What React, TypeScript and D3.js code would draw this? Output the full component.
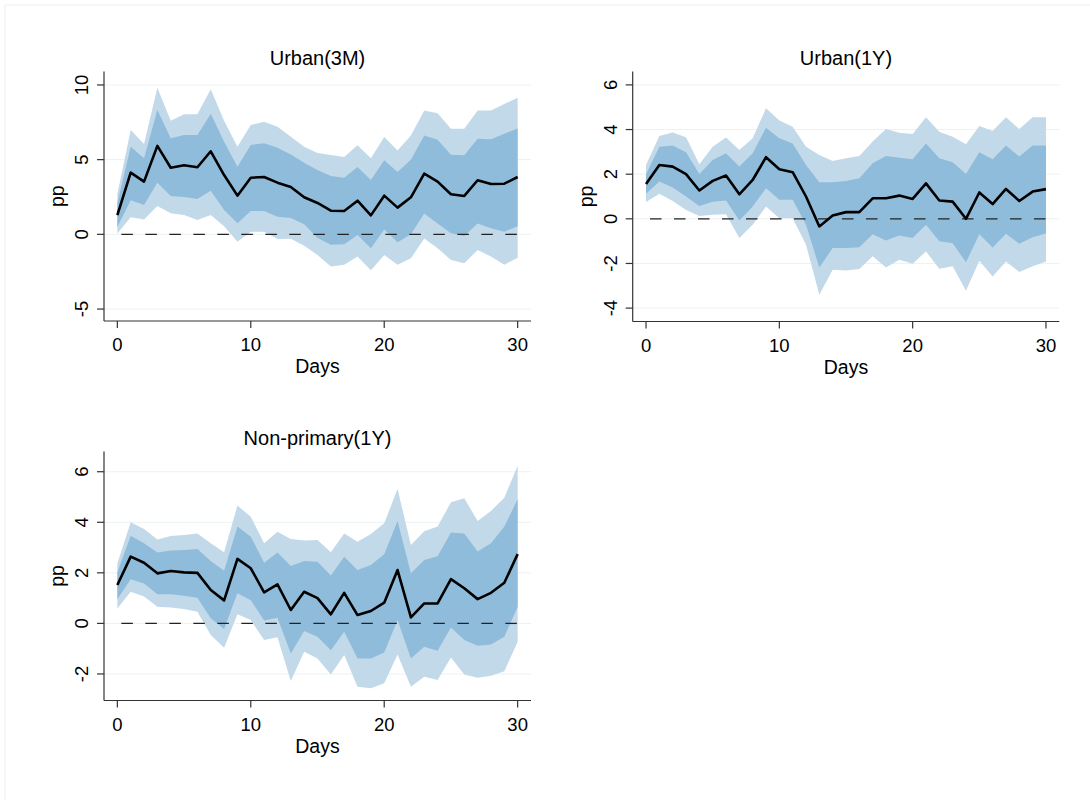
import React from "react";
import * as d3 from "d3";

const days = d3.range(0, 31);

// Urban(3M)
const u3mMean = [1.29, 4.13, 3.53, 5.92, 4.46, 4.62, 4.49, 5.56, 3.97, 2.59, 3.79, 3.84, 3.46, 3.17, 2.48, 2.1, 1.58, 1.56, 2.25, 1.27, 2.59, 1.79, 2.48, 4.06, 3.53, 2.68, 2.57, 3.62, 3.37, 3.39, 3.84];
const u3mHi90 = [2.7, 6.99, 6.05, 9.82, 7.61, 8.04, 8.04, 9.71, 7.6, 5.87, 7.32, 7.54, 7.21, 6.54, 5.87, 5.44, 5.31, 5.18, 5.96, 5.1, 6.51, 5.62, 6.62, 8.29, 8.11, 7.07, 7.07, 8.29, 8.29, 8.73, 9.14];
const u3mHi68 = [2.1, 5.87, 5.09, 8.33, 6.43, 6.65, 6.65, 8.08, 6.2, 4.53, 5.98, 6.09, 5.8, 5.35, 4.8, 4.3, 3.9, 3.78, 4.51, 3.63, 4.96, 4.18, 5.0, 6.62, 6.33, 5.33, 5.29, 6.4, 6.36, 6.73, 7.08];
const u3mLo68 = [0.5, 2.28, 1.96, 3.46, 2.57, 2.5, 2.37, 2.92, 1.63, 0.74, 1.56, 1.56, 1.18, 1.1, 0.67, -0.25, -0.69, -0.67, -0.04, -0.93, 0.33, -0.53, 0.0, 1.4, 0.73, 0.07, -0.11, 0.73, 0.4, 0.18, 0.55];
const u3mLo90 = [0.05, 1.14, 1.0, 1.9, 1.41, 1.29, 0.96, 1.29, 0.55, -0.49, 0.18, 0.18, -0.31, -0.29, -0.77, -1.38, -2.16, -2.04, -1.49, -2.4, -1.38, -2.04, -1.6, -0.27, -0.93, -1.71, -1.93, -1.04, -1.49, -2.04, -1.56];

// Urban(1Y)
const u1yMean = [1.56, 2.41, 2.34, 2.0, 1.27, 1.7, 1.94, 1.1, 1.74, 2.76, 2.22, 2.09, 1.0, -0.34, 0.15, 0.3, 0.3, 0.92, 0.92, 1.04, 0.89, 1.59, 0.82, 0.77, 0.0, 1.18, 0.66, 1.34, 0.8, 1.22, 1.33];
const u1yHi90 = [2.41, 3.71, 3.87, 3.65, 2.44, 3.23, 3.64, 3.08, 3.61, 4.95, 4.4, 4.13, 3.23, 2.86, 2.59, 2.71, 2.82, 3.46, 4.02, 3.86, 3.8, 4.55, 3.9, 3.68, 3.34, 4.16, 3.93, 4.55, 4.02, 4.55, 4.55];
const u1yHi68 = [2.0, 3.23, 3.28, 2.98, 2.01, 2.64, 2.94, 2.34, 2.94, 4.08, 3.61, 3.38, 2.41, 1.64, 1.64, 1.7, 1.82, 2.49, 2.82, 2.74, 2.67, 3.38, 2.71, 2.53, 2.01, 2.98, 2.67, 3.28, 2.79, 3.28, 3.28];
const u1yLo68 = [1.12, 1.67, 1.4, 1.0, 0.58, 0.77, 0.82, -0.07, 0.55, 1.37, 0.85, 0.85, -0.27, -2.18, -1.31, -1.31, -1.27, -0.69, -0.97, -0.75, -0.86, -0.27, -1.01, -1.09, -1.95, -0.69, -1.28, -0.67, -1.12, -0.83, -0.66];
const u1yLo90 = [0.75, 1.12, 0.8, 0.4, 0.13, 0.18, 0.21, -0.86, -0.27, 0.55, 0.03, 0.03, -1.16, -3.4, -2.28, -2.32, -2.25, -1.68, -2.18, -1.83, -2.01, -1.46, -2.24, -2.13, -3.22, -1.88, -2.58, -1.91, -2.38, -2.13, -1.91];

// Non-primary(1Y)
const npMean = [1.52, 2.64, 2.4, 1.98, 2.07, 2.02, 2.0, 1.32, 0.91, 2.55, 2.18, 1.23, 1.54, 0.53, 1.25, 1.0, 0.36, 1.21, 0.33, 0.49, 0.82, 2.11, 0.24, 0.79, 0.79, 1.75, 1.39, 0.96, 1.21, 1.61, 2.74];
const npHi90 = [2.37, 4.0, 3.73, 3.32, 3.46, 3.5, 3.56, 3.17, 2.81, 4.66, 4.22, 3.17, 3.63, 3.34, 3.28, 3.3, 2.81, 3.56, 3.23, 3.54, 3.96, 5.32, 3.1, 3.65, 3.83, 4.79, 4.95, 4.05, 4.45, 4.97, 6.24];
const npHi68 = [2.02, 3.47, 3.17, 2.8, 2.88, 2.9, 2.94, 2.47, 2.08, 3.83, 3.43, 2.4, 2.8, 2.27, 2.47, 2.44, 1.89, 2.64, 2.11, 2.31, 2.74, 4.05, 1.98, 2.51, 2.66, 3.6, 3.56, 2.84, 3.17, 3.83, 4.91];
const npLo68 = [0.96, 1.75, 1.58, 1.15, 1.15, 1.09, 1.01, 0.2, -0.22, 1.19, 0.92, 0.11, 0.22, -1.19, -0.3, -0.53, -1.06, -0.33, -1.39, -1.39, -1.15, 0.13, -1.39, -0.92, -1.08, -0.16, -0.66, -0.88, -0.83, -0.53, 0.66];
const npLo90 = [0.59, 1.25, 1.06, 0.66, 0.63, 0.57, 0.46, -0.46, -0.96, 0.36, 0.13, -0.66, -0.55, -2.28, -1.12, -1.39, -2.02, -1.25, -2.51, -2.57, -2.37, -1.23, -2.51, -2.11, -2.24, -1.35, -2.02, -2.15, -2.07, -1.89, -0.73];

const xTicks = [0, 10, 20, 30];
const u3mTicks = [-5, 0, 5, 10];
const u1yTicks = [-4, -2, 0, 2, 4, 6];
const npTicks = [-2, 0, 2, 4, 6];

const FONT = "'Liberation Sans', Arial, Helvetica, sans-serif";
const LIGHT = "#c2d9e9";
const DARK = "#90bcdb";
const GRID = "#eaf2f3";
const AXIS = "#333";

type PanelProps = {
  title: string;
  left: number;
  right: number;
  top: number;
  bottom: number;
  yDomain: [number, number];
  yTicks: number[];
  mean: number[];
  hi90: number[];
  hi68: number[];
  lo68: number[];
  lo90: number[];
};

function Panel(p: PanelProps) {
  const x = d3.scaleLinear().domain([-1, 31]).range([p.left, p.right]);
  const y = d3.scaleLinear().domain(p.yDomain).range([p.bottom, p.top]);
  const area = (lo: number[], hi: number[]) =>
    d3
      .area<number>()
      .x((d) => x(d))
      .y0((d) => y(lo[d]))
      .y1((d) => y(hi[d]))(days) || "";
  const line = d3
    .line<number>()
    .x((d) => x(d))
    .y((d) => y(p.mean[d]))(days) || "";
  const cx = (p.left + p.right) / 2;
  const cy = (p.top + p.bottom) / 2;
  return (
    <g fontFamily={FONT} fill="#000">
      {p.yTicks.map((t) => (
        <line key={"g" + t} x1={p.left} x2={p.right} y1={y(t)} y2={y(t)} stroke={GRID} strokeWidth={1} />
      ))}
      <path d={area(p.lo90, p.hi90)} fill={LIGHT} />
      <path d={area(p.lo68, p.hi68)} fill={DARK} />
      <line x1={x(0)} x2={x(30)} y1={y(0)} y2={y(0)} stroke="#222" strokeWidth={1.3} strokeDasharray="11.5 12.5" strokeDashoffset={-4} />
      <path d={line} fill="none" stroke="#000" strokeWidth={2.6} strokeLinejoin="round" />
      <line x1={p.left} x2={p.left} y1={p.top} y2={p.bottom} stroke={AXIS} strokeWidth={1.2} />
      <line x1={p.left} x2={p.right} y1={p.bottom} y2={p.bottom} stroke={AXIS} strokeWidth={1.2} />
      {p.yTicks.map((t) => (
        <g key={"y" + t}>
          <line x1={p.left - 7} x2={p.left} y1={y(t)} y2={y(t)} stroke={AXIS} strokeWidth={1.2} />
          <text transform={`translate(${p.left - 16},${y(t)}) rotate(-90)`} textAnchor="middle" fontSize={18.5}>
            {t}
          </text>
        </g>
      ))}
      {xTicks.map((t) => (
        <g key={"x" + t}>
          <line x1={x(t)} x2={x(t)} y1={p.bottom} y2={p.bottom + 7} stroke={AXIS} strokeWidth={1.2} />
          <text x={x(t)} y={p.bottom + 30} textAnchor="middle" fontSize={18.5}>
            {t}
          </text>
        </g>
      ))}
      <text x={cx} y={p.bottom + 52} textAnchor="middle" fontSize={19.5}>
        Days
      </text>
      <text transform={`translate(${p.left - 40},${cy}) rotate(-90)`} textAnchor="middle" fontSize={19.5}>
        pp
      </text>
      <text x={cx} y={p.top - 7} textAnchor="middle" fontSize={20}>
        {p.title}
      </text>
    </g>
  );
}

export default function App() {
  return (
    <svg
      width={1090}
      height={800}
      style={{ position: "absolute", left: 0, top: 0, background: "#fff" }}
    >
      <rect x={0} y={0} width={1090} height={800} fill="#fff" />
      <line x1={5} x2={1090} y1={5} y2={5} stroke="#eeeeee" strokeWidth={1} />
      <line x1={5} x2={5} y1={5} y2={800} stroke="#eeeeee" strokeWidth={1} />
      <Panel
        title="Urban(3M)"
        left={104}
        right={531}
        top={71.5}
        bottom={321}
        yDomain={[-5.8, 10.9]}
        yTicks={u3mTicks}
        mean={u3mMean}
        hi90={u3mHi90}
        hi68={u3mHi68}
        lo68={u3mLo68}
        lo90={u3mLo90}
      />
      <Panel
        title="Urban(1Y)"
        left={632.7}
        right={1059.3}
        top={71.5}
        bottom={321.5}
        yDomain={[-4.6, 6.6]}
        yTicks={u1yTicks}
        mean={u1yMean}
        hi90={u1yHi90}
        hi68={u1yHi68}
        lo68={u1yLo68}
        lo90={u1yLo90}
      />
      <Panel
        title="Non-primary(1Y)"
        left={104}
        right={531}
        top={451.5}
        bottom={700.5}
        yDomain={[-3.05, 6.8]}
        yTicks={npTicks}
        mean={npMean}
        hi90={npHi90}
        hi68={npHi68}
        lo68={npLo68}
        lo90={npLo90}
      />
    </svg>
  );
}
